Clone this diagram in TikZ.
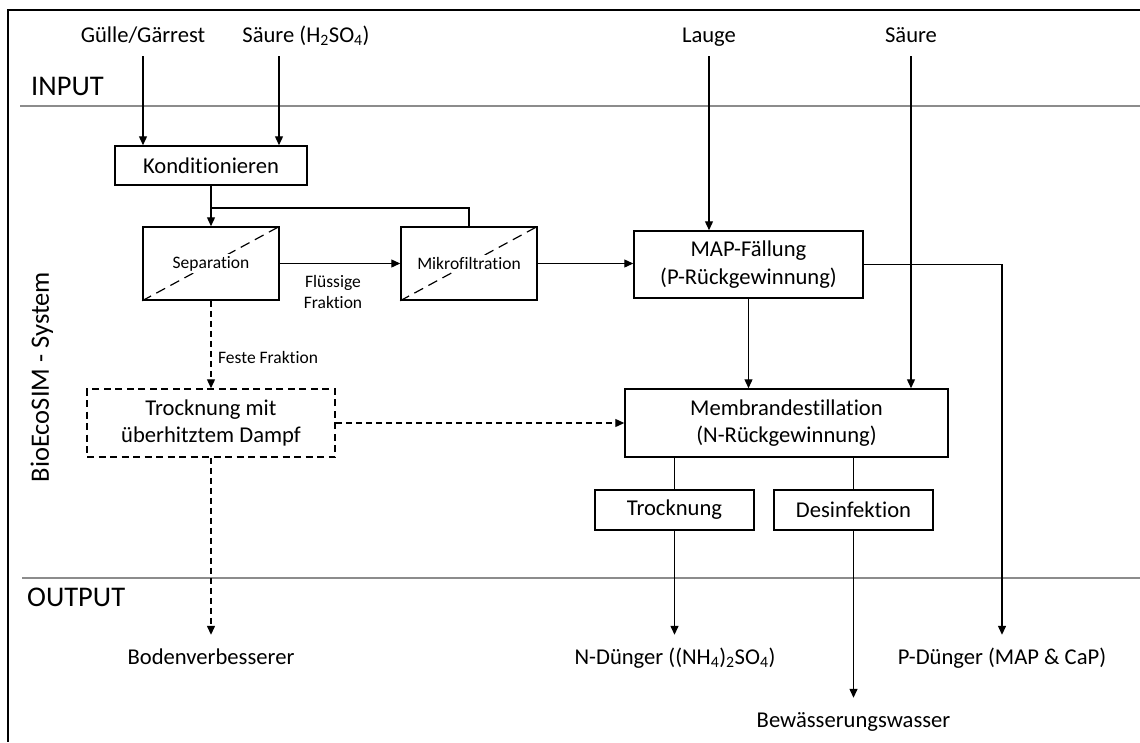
\documentclass[tikz,border=0pt]{standalone}
\usepackage{fontspec}
\setmainfont{Carlito}[Ligatures={NoCommon}]
\usetikzlibrary{arrows.meta,calc}
\newcommand{\fsmain}{\fontsize{22.6}{27.8}\selectfont}
\newcommand{\fssmall}{\fontsize{17.5}{21.5}\selectfont}
\newcommand{\fsbig}{\fontsize{28.5}{34}\selectfont}
\newcommand{\fssys}{\fontsize{26.5}{32}\selectfont}
\begin{document}
\begin{tikzpicture}[x=1pt,y=-1pt,
  box/.style={draw, line width=1.5pt, inner sep=0pt, font=\fsmain, align=center},
  dbox/.style={box, dash pattern=on 7pt off 4.5pt},
  inlbl/.style={font=\fsmain, inner xsep=0pt, inner ysep=9pt, text height=17pt, text depth=5pt, anchor=base},
  outlbl/.style={font=\fsmain, inner xsep=0pt, inner ysep=12pt, text height=17pt, text depth=5pt, anchor=base},
  smalllbl/.style={font=\fssmall, inner sep=0pt, align=center},
  boxtxt/.style={font=\fssmall, fill=white, inner xsep=2pt, inner ysep=2pt},
  biglbl/.style={font=\fsbig, inner sep=0pt, anchor=base west},
  ln/.style={line width=1.3pt},
  arr/.style={ln, -{Triangle[length=9pt,width=8pt]}},
  dsh/.style={dash pattern=on 6pt off 4pt},
  diag/.style={line width=1.2pt, dash pattern=on 10pt off 6pt},
  sepline/.style={line width=1.5pt, draw=black!45}
]
\useasboundingbox (0,0) rectangle (1140,742);
% frame
\draw[line width=2.5pt] (1140,10) -- (8,10) -- (8,742);
\draw[sepline] (20,106) -- (1140,106);
\draw[sepline] (22,578) -- (1140,578);

% section labels
\node[biglbl] (inp) at (31,95) {INPUT};
\node[biglbl] (outp) at (27,606) {OUTPUT};
\node[font=\fssys, inner sep=0pt, rotate=90] (sys) at (42,377) {BioEcoSIM - System};

% inputs
\node[inlbl] (g) at (143,42) {Gülle/Gärrest};
\node[inlbl] (s1) at (306,42) {Säure (H\textsubscript{2}SO\textsubscript{4})};
\node[inlbl] (lauge) at (709,42) {Lauge};
\node[inlbl] (s2) at (911,42) {Säure};

% boxes
\node[box, minimum width=192pt, minimum height=39pt] (kond) at (211,165.5) {Konditionieren};
\node[box, minimum width=136pt, minimum height=73pt] (sep) at (211,263.5) {};
\draw[diag] (sep.south west) -- (sep.north east);
\node[boxtxt] (sept) at (sep.center) {Separation};
\node[box, minimum width=136pt, minimum height=73pt] (mikro) at (469,263.5) {};
\draw[diag] (mikro.south west) -- (mikro.north east);
\node[boxtxt] (mikrot) at (mikro.center) {Mikrofiltration};
\node[box, minimum width=229pt, minimum height=67pt] (map) at (748.5,264.5) {MAP-Fällung\\(P-Rückgewinnung)};
\node[dbox, minimum width=248pt, minimum height=68pt] (trmit) at (211,423) {Trocknung mit\\überhitztem Dampf};
\node[box, minimum width=323pt, minimum height=68pt] (memb) at (786.5,423) {Membrandestillation\\(N-Rückgewinnung)};
\node[box, minimum width=159pt, minimum height=40pt] (troc) at (674.5,510) {Trocknung};
\node[box, minimum width=159pt, minimum height=40pt] (desi) at (853.5,510) {Desinfektion};

% outputs
\node[outlbl] (bod) at (211,664) {Bodenverbesserer};
\node[outlbl] (ndue) at (675,664) {N-Dünger ((NH\textsubscript{4})\textsubscript{2}SO\textsubscript{4})};
\node[outlbl] (pdue) at (1002,664) {P-Dünger (MAP \& CaP)};
\node[outlbl] (bew) at (853.5,727) {Bewässerungswasser};

% small labels
\node[smalllbl] (fl) at (333,292) {Flüssige\\Fraktion};
\node[smalllbl, anchor=west] (ff) at (218,357) {Feste Fraktion};

% connectors
\draw[arr] (g.south) -- (g.south |- kond.north);
\coordinate (s1a) at ([xshift=-27pt]s1.south);
\draw[arr] (s1a) -- (s1a |- kond.north);
\draw[arr] (kond.south) -- (sep.north);
\coordinate (br) at ($(kond.south)!0.55!(sep.north)$);
\draw[ln] (br) -| (mikro.north);
\draw[arr] (sep.east) -- (mikro.west);
\draw[arr] (mikro.east) -- (mikro.east -| map.west);
\draw[arr] (lauge.south) -- (lauge.south |- map.north);
\draw[arr] (map.south) -- (map.south |- memb.north);
\draw[arr] (s2.south) -- (s2.south |- memb.north);
\draw[arr] (map.east) -| (pdue.north);
\draw[arr, dsh] (sep.south) -- (trmit.north);
\draw[arr, dsh] (trmit.east) -- (memb.west);
\draw[arr, dsh] (trmit.south) -- (bod.north);
\draw[ln] (memb.south -| troc.north) -- (troc.north);
\draw[ln] (memb.south -| desi.north) -- (desi.north);
\draw[arr] (troc.south) -- (troc.south |- ndue.north);
\draw[arr] (desi.south) -- (bew.north);
\end{tikzpicture}
\end{document}
